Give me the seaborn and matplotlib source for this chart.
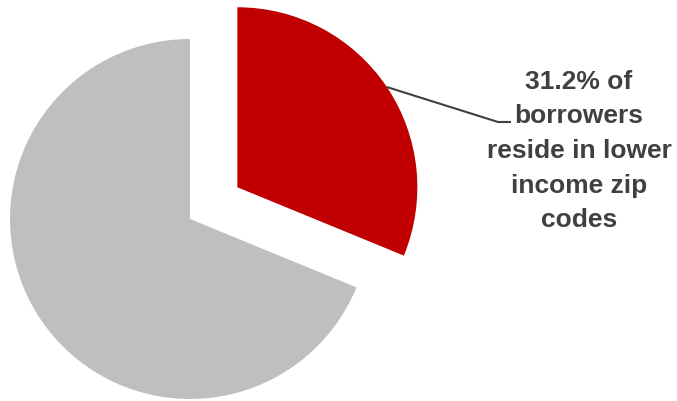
import numpy as np
import seaborn as sns
from matplotlib import pyplot as plt

labels = ["Lower income zip codes", "Other zip codes"]
shares = [31.2, 68.8]
colors = ["#C00000", "#BFBFBF"]
note = "31.2% of\nborrowers\nreside in lower\nincome zip\ncodes"

sns.set_style("white")

W, H = 677, 402
fig = plt.figure(figsize=(W / 100, H / 100), dpi=100)
ax = fig.add_axes([0, 0, 1, 1])

center = (190, H - 220)
radius = 180
offset = 57

ax.pie(shares, colors=colors, startangle=90, counterclock=False,
       center=center, radius=radius, explode=[offset, 0],
       wedgeprops=dict(linewidth=0))

# leader line from the middle of the red arc
mid = np.deg2rad(90 - shares[0] / 100 * 360 / 2)
cx = center[0] + offset * np.cos(mid)
cy = center[1] + offset * np.sin(mid)
x0 = cx + radius * np.cos(mid)
y0 = cy + radius * np.sin(mid)
ax.plot([x0, 498, 511], [y0, H - 123, H - 123], color="#404040", lw=1.5,
        solid_capstyle="butt")

ax.text(579, H - 151, note, ha="center", va="center", fontsize=19,
        fontweight="bold", color="#404040", linespacing=1.56,
        family=["Liberation Sans", "DejaVu Sans"])

ax.set_xlim(0, W)
ax.set_ylim(0, H)
ax.set_aspect("equal")
ax.axis("off")
fig.savefig("out.png", dpi=100)
